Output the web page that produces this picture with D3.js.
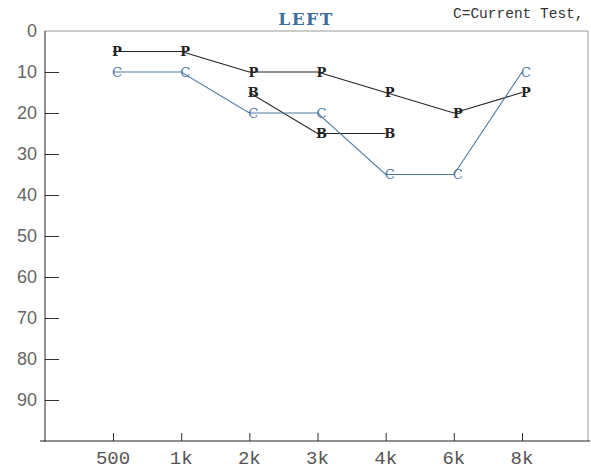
<!DOCTYPE html>
<html>
<head>
<meta charset="utf-8">
<script src="https://cdn.jsdelivr.net/npm/d3@7"></script>
<style>
  body { margin: 0; background: #fff; }
</style>
</head>
<body>
<div id="chart"></div>
<script>
'use strict';

const freqs = ['500', '1k', '2k', '3k', '4k', '6k', '8k'];
const yTicks = [0, 10, 20, 30, 40, 50, 60, 70, 80, 90];

// C = current test (blue)
const currentFreqs = ['500', '1k', '2k', '3k', '4k', '6k', '8k'];
const currentValues = [10, 10, 20, 20, 35, 35, 10];

// P = previous test
const previousFreqs = ['500', '1k', '2k', '3k', '4k', '6k', '8k'];
const previousValues = [5, 5, 10, 10, 15, 20, 15];

// B
const bFreqs = ['2k', '3k', '4k'];
const bValues = [15, 25, 25];

const width = 591;
const height = 470;
const margin = { top: 31, right: 3, bottom: 29, left: 45 };

const svg = d3.select('#chart')
  .append('svg')
  .attr('width', width)
  .attr('height', height);

const x = d3.scalePoint()
  .domain(freqs)
  .range([113, 522]);

const y = d3.scaleLinear()
  .domain([0, 100])
  .range([margin.top, height - margin.bottom]);

// light frame at top and right
svg.append('path')
  .attr('d', `M${margin.left},${margin.top}H${width - margin.right}V${y(100)}`)
  .attr('fill', 'none')
  .attr('stroke', '#999')
  .attr('stroke-width', 1);

// left axis
const yAxis = d3.axisRight(y)
  .tickValues(yTicks.filter((d) => d > 0))
  .tickSize(14)
  .tickFormat('');

svg.append('g')
  .attr('transform', `translate(${margin.left},0)`)
  .call(yAxis)
  .call((g) => g.select('.domain').remove())
  .call((g) => g.selectAll('line').attr('stroke', '#333'));

svg.append('line')
  .attr('x1', margin.left).attr('x2', margin.left)
  .attr('y1', margin.top).attr('y2', y(100) + 1)
  .attr('stroke', '#222');

svg.append('g')
  .selectAll('text')
  .data(yTicks)
  .join('text')
  .attr('x', 37)
  .attr('y', (d) => y(d))
  .attr('dy', '0.36em')
  .attr('text-anchor', 'end')
  .attr('font-family', 'Liberation Sans, Arial, sans-serif')
  .attr('font-size', 18)
  .attr('fill', '#666')
  .text((d) => d);

// bottom axis
const xAxis = d3.axisTop(x)
  .tickSize(8)
  .tickFormat('');

svg.append('g')
  .attr('transform', `translate(0,${y(100)})`)
  .call(xAxis)
  .call((g) => g.select('.domain').remove())
  .call((g) => g.selectAll('line').attr('stroke', '#333'));

svg.append('line')
  .attr('x1', 40).attr('x2', width - 1)
  .attr('y1', y(100)).attr('y2', y(100))
  .attr('stroke', '#222');

svg.append('g')
  .selectAll('text')
  .data(freqs)
  .join('text')
  .attr('x', (d) => x(d))
  .attr('y', 464)
  .attr('text-anchor', 'middle')
  .attr('font-family', 'Liberation Mono, Courier New, monospace')
  .attr('font-size', 19)
  .attr('fill', '#555')
  .text((d) => d);

// titles
svg.append('text')
  .attr('x', 306)
  .attr('y', 25)
  .attr('text-anchor', 'middle')
  .attr('font-family', 'DejaVu Serif, serif')
  .attr('font-weight', 'bold')
  .attr('font-size', 17)
  .attr('letter-spacing', 1.5)
  .attr('fill', '#3f6f9e')
  .text('LEFT');

svg.append('text')
  .attr('x', 453)
  .attr('y', 18)
  .attr('font-family', 'Liberation Mono, Courier New, monospace')
  .attr('font-size', 14.5)
  .attr('fill', '#333')
  .text('C=Current Test,');

// series
const line = d3.line()
  .x((d) => x(d.f))
  .y((d) => y(d.v));

const series = [
  { letter: 'P', freqs: previousFreqs, values: previousValues, color: '#222', weight: 'bold' },
  { letter: 'B', freqs: bFreqs, values: bValues, color: '#222', weight: 'bold' },
  { letter: 'C', freqs: currentFreqs, values: currentValues, color: '#4f7aa6', weight: 'normal' },
];

series.forEach((s) => {
  const pts = s.freqs.map((f, i) => ({ f, v: s.values[i] }));

  svg.append('path')
    .datum(pts)
    .attr('d', line)
    .attr('fill', 'none')
    .attr('stroke', s.color)
    .attr('stroke-width', 1.1);

  svg.append('g')
    .selectAll('text')
    .data(pts)
    .join('text')
    .attr('x', (d) => x(d.f) + 4)
    .attr('y', (d) => y(d.v))
    .attr('dy', '0.35em')
    .attr('text-anchor', 'middle')
    .attr('font-family', 'DejaVu Serif, serif')
    .attr('font-weight', s.weight)
    .attr('font-size', 13)
    .attr('fill', s.color)
    .text(s.letter);
});
</script>
</body>
</html>
